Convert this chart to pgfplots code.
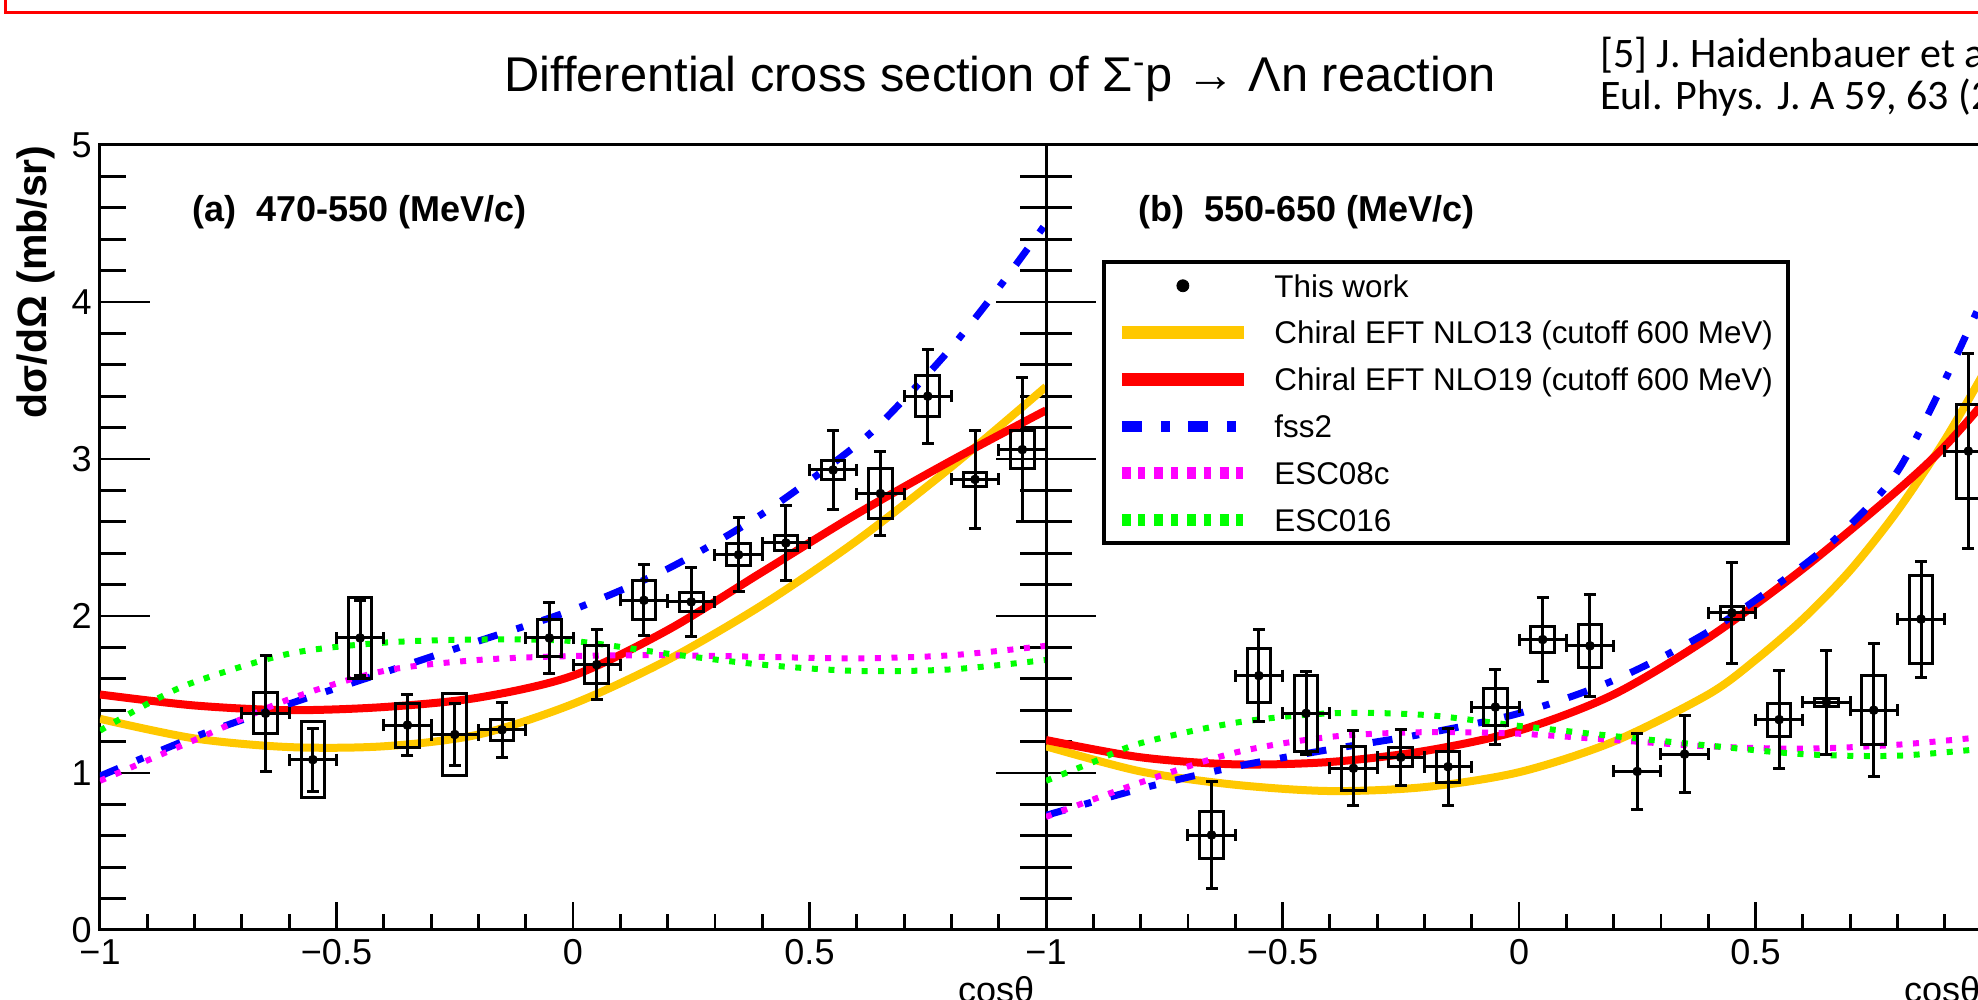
\documentclass[border=0pt]{standalone}
\usepackage{fontspec}
\setmainfont{Liberation Sans}
\newfontfamily\cali{Carlito}
\usepackage{pgfplots}
\usepackage{pgfplotstable}
\pgfplotsset{compat=1.18}

\definecolor{cyellow}{RGB}{255,200,0}
\definecolor{cred}{RGB}{255,0,0}
\definecolor{cblue}{RGB}{0,0,255}
\definecolor{cmag}{RGB}{255,0,255}
\definecolor{cgreen}{RGB}{0,255,0}

% x, y, stat. error, half height of syst. box
\pgfplotstableread{
x y ey sy
-0.65 1.38 0.37 0.13
-0.55 1.085 0.20 0.24
-0.45 1.86 0.24 0.26
-0.35 1.305 0.195 0.14
-0.25 1.245 0.20 0.26
-0.15 1.275 0.175 0.065
-0.05 1.86 0.225 0.12
0.05 1.69 0.225 0.12
0.15 2.10 0.225 0.125
0.25 2.09 0.22 0.06
0.35 2.39 0.235 0.07
0.45 2.465 0.24 0.045
0.55 2.93 0.25 0.06
0.65 2.78 0.265 0.16
0.75 3.40 0.30 0.13
0.85 2.87 0.31 0.045
0.95 3.06 0.46 0.12
}\dataA

\pgfplotstableread{
x y ey sy
-0.65 0.605 0.34 0.15
-0.55 1.62 0.295 0.17
-0.45 1.38 0.265 0.24
-0.35 1.03 0.24 0.14
-0.25 1.10 0.18 0.06
-0.15 1.04 0.245 0.10
-0.05 1.42 0.24 0.115
0.05 1.85 0.265 0.085
0.15 1.81 0.325 0.135
0.25 1.01 0.24 0
0.35 1.12 0.245 0
0.45 2.02 0.32 0.04
0.55 1.34 0.31 0.105
0.65 1.45 0.33 0.025
0.75 1.40 0.425 0.22
0.85 1.98 0.37 0.28
0.95 3.05 0.62 0.30
}\dataB

\pgfplotsset{
  panel/.style={
    scale only axis, width=473pt, height=392.5pt,
    xmin=-1, xmax=1, ymin=0, ymax=5,
    xtick={-1,-0.5,0,0.5,1}, ytick={0,1,2,3,4,5},
    minor x tick num=4, minor y tick num=4,
    tick align=inside, xtick pos=left,
    axis line style={line width=1.5pt},
    tick style={line width=1.4pt, black},
    xtick style={/pgfplots/major tick length=14pt, /pgfplots/minor tick length=8pt},
    ytick style={/pgfplots/major tick length=25pt, /pgfplots/minor tick length=13pt},
    tick label style={font=\fontsize{18}{20}\selectfont},
    xticklabel style={anchor=north, inner sep=0pt, yshift=-4.5pt},
    yticklabel style={anchor=east, inner sep=0pt, xshift=-4pt},
    xlabel={cosθ},
    xlabel style={at={(axis description cs:0.988,0)}, anchor=base east,
      yshift=-36.5pt, inner sep=0pt, font=\fontsize{18}{20}\selectfont},
    legend image code/.code={\draw[#1] (0pt,0pt) -- (61pt,0pt);},
  },
  nlo13/.style={cyellow, line width=4pt, smooth},
  nlo19/.style={cred, line width=4pt, smooth},
  fss/.style={cblue, line width=3.5pt, smooth, dash pattern=on 10pt off 10pt on 3.5pt off 10pt},
  escc/.style={cmag, line width=3pt, smooth, dash pattern=on 3pt off 5.3pt},
  esco/.style={cgreen, line width=3pt, smooth, dash pattern=on 3pt off 5.3pt},
  pts/.style={black, only marks, mark=*, mark size=2.2pt,
    error bars/.cd, x dir=both, x fixed=0.05, y dir=both, y explicit,
    error bar style={line width=1.5pt},
    error mark options={rotate=90, line width=1.5pt, mark size=3pt}},
  boxv/.style={draw=none, mark=none,
    error bars/.cd, y dir=both, y explicit, error mark=none,
    error bar style={draw=black, line width=1.5pt, line cap=rect}},
  boxh/.style={draw=none, mark=none,
    error bars/.cd, x dir=both, x fixed=0.025, error mark=none,
    error bar style={draw=black, line width=1.5pt, line cap=rect}},
}

\begin{document}
\begin{tikzpicture}
\useasboundingbox (0,0) rectangle (989pt,500pt);
\clip (0,0) rectangle (989pt,500pt);
\fill[white] (0,0) rectangle (989pt,500pt);

\draw[red, line width=1.5pt] (2.5pt,505pt) -- (2.5pt,493.5pt) -- (995pt,493.5pt);
\node[anchor=base, inner sep=0pt, font=\fontsize{24.4}{28}\selectfont] at (500pt,454pt)
  {Differential cross section of Σ\textsuperscript{-}p → Λn reaction};
\node[anchor=base west, inner sep=0pt, font=\cali\fontsize{21}{24}\selectfont] at (800pt,466pt)
  {[5] J. Haidenbauer et al.,};
\node[anchor=base west, inner sep=0pt, font=\cali\fontsize{21}{24}\selectfont] at (800pt,445pt)
  {Eul. Phys. J. A 59, 63 (2023)};

% (a) 470-550 MeV/c
\begin{axis}[panel, at={(50pt,35pt)}, anchor=south west,
  ytick pos=both,
  xticklabels={−1,−0.5,0,0.5,{}},
  yticklabels={0,1,2,3,4,5},
  ylabel={dσ/dΩ (mb/sr)},
  ylabel style={at={(axis description cs:-0.0677,1)}, anchor=east, inner sep=0pt,
    font=\bfseries\fontsize{20.5}{23}\selectfont},
]
\addplot[nlo13] coordinates {(-1,1.345) (-0.8,1.22) (-0.6,1.165) (-0.4,1.17) (-0.2,1.245) (0,1.44) (0.2,1.72) (0.4,2.07) (0.6,2.48) (0.8,2.95) (1.0,3.46)};
\addplot[nlo19] coordinates {(-1,1.50) (-0.8,1.43) (-0.6,1.40) (-0.4,1.42) (-0.2,1.48) (0,1.62) (0.2,1.91) (0.4,2.28) (0.6,2.65) (0.8,2.99) (1.0,3.31)};
\addplot[fss] coordinates {(-1,0.98) (-0.8,1.23) (-0.6,1.44) (-0.4,1.64) (-0.2,1.84) (0,2.04) (0.2,2.30) (0.4,2.65) (0.6,3.09) (0.7,3.38) (0.8,3.71) (0.9,4.09) (1.0,4.50)};
\addplot[escc] coordinates {(-1,0.95) (-0.8,1.21) (-0.6,1.47) (-0.4,1.65) (-0.2,1.72) (0,1.745) (0.2,1.75) (0.4,1.74) (0.6,1.73) (0.8,1.75) (1.0,1.81)};
\addplot[esco] coordinates {(-1,1.27) (-0.9,1.44) (-0.8,1.58) (-0.6,1.76) (-0.4,1.83) (-0.2,1.85) (0,1.84) (0.2,1.76) (0.4,1.69) (0.6,1.65) (0.8,1.66) (1.0,1.72)};
\addplot[boxv] table[x expr=\thisrow{x}-0.025, y=y, y error=sy] {\dataA};
\addplot[boxv] table[x expr=\thisrow{x}+0.025, y=y, y error=sy] {\dataA};
\addplot[boxh] table[x=x, y expr=\thisrow{y}+\thisrow{sy}] {\dataA};
\addplot[boxh] table[x=x, y expr=\thisrow{y}-\thisrow{sy}] {\dataA};
\addplot[pts] table[x=x, y=y, y error=ey] {\dataA};
\node[anchor=base west, inner sep=0pt, font=\bfseries\fontsize{18}{20}\selectfont]
  at (rel axis cs:0.0973,0.902) {(a)\ \ 470-550 (MeV/c)};
\end{axis}

% (b) 550-650 MeV/c
\begin{axis}[panel, at={(523pt,35pt)}, anchor=south west,
  ytick pos=left,
  xticklabels={−1,−0.5,0,0.5,1},
  yticklabels={},
  legend style={at={(0.0613,0.851)}, anchor=north west, draw=none, fill=none,
    inner xsep=5.5pt, inner ysep=0pt, row sep=0pt, column sep=12pt,
    font=\fontsize{15.7}{18}\selectfont,
    nodes={inner sep=0pt, text height=17.4pt, text depth=6pt}},
  legend cell align=left,
]
\addlegendimage{legend image code/.code={\fill[black] (30.5pt,0pt) circle (3pt);}}
\addlegendentry{This work}
\addlegendimage{cyellow, line width=6.5pt}
\addlegendentry{Chiral EFT NLO13 (cutoff 600 MeV)}
\addlegendimage{cred, line width=6.5pt}
\addlegendentry{Chiral EFT NLO19 (cutoff 600 MeV)}
\addlegendimage{cblue, line width=5.5pt, dash pattern=on 10pt off 9.5pt on 4.5pt off 9pt}
\addlegendentry{fss2}
\addlegendimage{cmag, line width=5.75pt, dash pattern=on 4.5pt off 3.8pt on 3.5pt off 4.5pt}
\addlegendentry{ESC08c}
\addlegendimage{cgreen, line width=5.75pt, dash pattern=on 4.5pt off 3.8pt on 3.5pt off 4.5pt}
\addlegendentry{ESC016}

\addplot[forget plot, nlo13] coordinates {(-1,1.17) (-0.8,1.01) (-0.6,0.925) (-0.4,0.885) (-0.2,0.91) (0,1.005) (0.2,1.20) (0.4,1.50) (0.5,1.72) (0.6,1.98) (0.7,2.29) (0.8,2.67) (0.9,3.12) (1.0,3.64)};
\addplot[forget plot, nlo19] coordinates {(-1,1.21) (-0.8,1.10) (-0.6,1.055) (-0.4,1.07) (-0.2,1.14) (0,1.27) (0.2,1.50) (0.4,1.86) (0.6,2.30) (0.8,2.80) (0.9,3.08) (1.0,3.42)};
\addplot[forget plot, fss] coordinates {(-1,0.73) (-0.8,0.90) (-0.6,1.04) (-0.4,1.15) (-0.2,1.25) (0,1.38) (0.2,1.59) (0.4,1.90) (0.6,2.32) (0.7,2.58) (0.8,2.92) (0.9,3.50) (1.0,4.15)};
\addplot[forget plot, escc] coordinates {(-1,0.72) (-0.8,0.94) (-0.6,1.13) (-0.4,1.23) (-0.2,1.26) (0,1.25) (0.2,1.21) (0.4,1.17) (0.6,1.155) (0.8,1.18) (1.0,1.235)};
\addplot[forget plot, esco] coordinates {(-1,0.95) (-0.9,1.07) (-0.8,1.19) (-0.6,1.32) (-0.4,1.38) (-0.2,1.37) (0,1.30) (0.2,1.235) (0.4,1.175) (0.6,1.12) (0.8,1.11) (1.0,1.16)};
\addplot[forget plot, boxv] table[x expr=\thisrow{x}-0.025, y=y, y error=sy] {\dataB};
\addplot[forget plot, boxv] table[x expr=\thisrow{x}+0.025, y=y, y error=sy] {\dataB};
\addplot[forget plot, boxh] table[x=x, y expr=\thisrow{y}+\thisrow{sy}] {\dataB};
\addplot[forget plot, boxh] table[x=x, y expr=\thisrow{y}-\thisrow{sy}] {\dataB};
\addplot[forget plot, pts] table[x=x, y=y, y error=ey] {\dataB};
\node[anchor=base west, inner sep=0pt, font=\bfseries\fontsize{18}{20}\selectfont]
  at (rel axis cs:0.0973,0.902) {(b)\ \ 550-650 (MeV/c)};
\end{axis}

% legend frame
\draw[line width=1.75pt] (552pt,369pt) rectangle (894pt,228.5pt);
\end{tikzpicture}
\end{document}
